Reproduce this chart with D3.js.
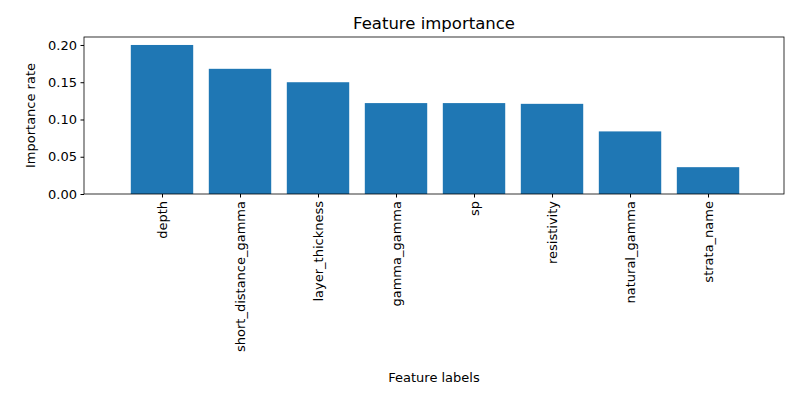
<!DOCTYPE html>
<html><head><meta charset="utf-8">
<script src="https://cdn.jsdelivr.net/npm/d3@7"></script>
<style>body{margin:0;background:#fff}text{font-family:"DejaVu Sans",sans-serif}</style>
</head><body><svg id="c" width="800" height="400"></svg>
<script>
const categories=["depth","short_distance_gamma","layer_thickness","gamma_gamma","sp","resistivity","natural_gamma","strata_name"];
const values=[0.200,0.168,0.150,0.122,0.122,0.121,0.084,0.036];
const yTicks=[0,0.05,0.10,0.15,0.20];
const svg=d3.select("#c");
const L=84,R=784,T=37,B=194;
const x=d3.scaleLinear().domain([-1,7.974]).range([L,R]);
const y=d3.scaleLinear().domain([0,0.2107]).range([B,T]);
const bw=x(0.8)-x(0);
svg.selectAll("rect.b").data(values).enter().append("rect")
 .attr("x",(d,i)=>x(i)-bw/2).attr("width",bw)
 .attr("y",d=>y(d)).attr("height",d=>B-y(d)).attr("fill","#1f77b4");
const ya=svg.append("g").attr("transform",`translate(${L},0)`)
 .call(d3.axisLeft(y).tickValues(yTicks).tickFormat(d3.format(".2f")).tickSize(3.5).tickPadding(3.5));
const xa=svg.append("g").attr("transform",`translate(0,${B})`)
 .call(d3.axisBottom(x).tickValues(d3.range(categories.length)).tickFormat(i=>categories[i]).tickSize(3.5));
[ya,xa].forEach(a=>{a.select(".domain").remove();a.selectAll("text").attr("font-size",13).attr("fill","#000");a.selectAll("line").attr("stroke","#000");});
xa.selectAll("text").attr("transform","rotate(-90)").attr("text-anchor","end")
 .attr("x",-7).attr("y",0).attr("dy","0.35em");
svg.append("rect").attr("x",L).attr("y",T).attr("width",R-L).attr("height",B-T)
 .attr("fill","none").attr("stroke","#000").attr("stroke-width",0.8);
svg.append("text").attr("x",(L+R)/2).attr("y",29).attr("text-anchor","middle").attr("font-size",16.5).text("Feature importance");
svg.append("text").attr("x",(L+R)/2).attr("y",382).attr("text-anchor","middle").attr("font-size",13).text("Feature labels");
svg.append("text").attr("transform",`translate(35,${(T+B)/2}) rotate(-90)`).attr("text-anchor","middle").attr("font-size",13).text("Importance rate");
</script></body></html>
